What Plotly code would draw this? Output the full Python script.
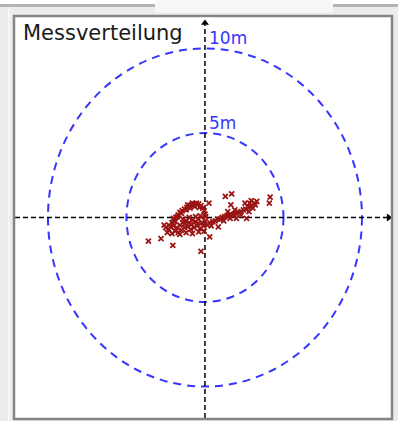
import plotly.graph_objects as go

# ---- data (metres) ----
title_text = "Messverteilung"
ring_radii = [5, 10]
ring_labels = ["5m", "10m"]

pts_x = [-3.6, -2.8, -2.05, -0.25, 0.3, 0.25, 1.3, 1.7, 1.65, 4.15, 4.1,
         -2.3, -2.1, -1.95, -1.85, -1.7, -1.6, -1.45, -1.3, -1.15, -1.0, -0.85, -0.7, -0.55, -0.4, -0.25, -0.15, -0.05, 0.0, 0.05,
         -1.75, -1.5, -1.2, -0.95, -0.65, -0.35, -1.9, -2.0, -0.8, -1.1,
         -2.5, -2.3, -2.2, -2.0, -1.8, -1.6, -1.4, -1.2, -1.0, -0.8, -0.6, -0.4, -0.2, 0.0,
         -2.4, -2.1, -1.9, -1.7, -1.5, -1.3, -1.1, -0.9, -0.7, -0.5, -0.3, -0.1, 0.15,
         -1.6, -1.2, -0.8, -0.4, -0.05, -2.6, -1.4, -1.0, -0.6, -0.3, -1.25, -0.85, -0.45,
         0.3, 0.5, 0.65, 0.8, 0.95, 1.1, 1.25, 1.4, 1.55, 1.7, 1.85, 2.0, 2.0, 2.15, 2.3, 2.45, 2.6, 2.75, 2.9, 3.05, 3.2,
         2.55, 2.85, 3.15, 2.65, 0.85, 1.2, 1.6, 2.3, 2.8, 0.4, 1.9, 1.45, 3.3, 2.95]
pts_y = [-1.4, -1.25, -1.65, -2.0, -1.15, 0.85, 1.25, 1.4, 0.75, 1.2, 0.85,
         -0.45, -0.3, -0.15, 0.0, 0.15, 0.3, 0.4, 0.5, 0.6, 0.7, 0.75, 0.8, 0.85, 0.8, 0.7, 0.55, 0.4, 0.2, 0.05,
         0.05, 0.25, 0.45, 0.55, 0.65, 0.6, -0.25, -0.05, 0.85, 0.75,
         -0.6, -0.7, -0.55, -0.5, -0.6, -0.45, -0.3, -0.2, -0.3, -0.15, -0.25, -0.1, -0.3, -0.2,
         -0.9, -0.95, -0.8, -0.9, -0.75, -0.6, -0.55, -0.7, -0.6, -0.5, -0.65, -0.5, -0.45,
         -1.0, -0.9, -0.95, -0.85, -0.8, -0.45, -0.1, 0.0, 0.05, 0.1, -0.35, -0.4, -0.35,
         -0.3, -0.25, -0.2, -0.1, -0.1, 0.0, 0.05, 0.1, 0.15, 0.15, 0.2, 0.25, -0.05, 0.3, 0.35, 0.45, 0.5, 0.6, 0.65, 0.55, 0.75,
         0.85, 0.85, 0.85, -0.05, -0.55, -0.2, -0.05, 0.15, 0.35, -0.5, 0.45, 0.35, 0.95, 1.0]

# axis extents (metres)
x_range = [-12.1, 11.85]
y_range = [-11.86, 11.86]
h_axis_x = [-12.1, 11.7]
v_axis_y = [-11.86, 11.5]

W, H = 398, 421
ML, MR, MT, MB = 15, 7, 17, 3
PW, PH = W - ML - MR, H - MT - MB

def px(x):
    return (x - ML) / PW

def py(y):
    return (H - MB - y) / PH

fig = go.Figure()

# axes (dashed black cross)
fig.add_trace(go.Scatter(x=h_axis_x, y=[0, 0], mode="lines",
                         line=dict(color="black", width=1.5, dash="5px,3px"),
                         hoverinfo="skip", showlegend=False))
fig.add_trace(go.Scatter(x=[0, 0], y=v_axis_y, mode="lines",
                         line=dict(color="black", width=1.5, dash="5px,3px"),
                         hoverinfo="skip", showlegend=False))
fig.add_trace(go.Scatter(x=[h_axis_x[1]], y=[0], mode="markers",
                         marker=dict(symbol="triangle-right", size=7, color="black"),
                         hoverinfo="skip", showlegend=False))
fig.add_trace(go.Scatter(x=[0], y=[v_axis_y[1]], mode="markers",
                         marker=dict(symbol="triangle-up", size=7, color="black"),
                         hoverinfo="skip", showlegend=False))

# measurement points
fig.add_trace(go.Scatter(x=pts_x, y=pts_y, mode="markers",
                         marker=dict(symbol="x-thin", size=5, color="#9a1414",
                                     line=dict(color="#9a1414", width=1.8)),
                         showlegend=False))

shapes = []
# outer chrome (outside the plot area only)
shapes.append(dict(type="rect", xref="paper", yref="paper", x0=px(0), x1=px(W), y0=py(4), y1=py(0),
                   fillcolor="white", line=dict(width=0), layer="below"))
shapes.append(dict(type="rect", xref="paper", yref="paper", x0=px(155), x1=px(333), y0=py(13), y1=py(0),
                   fillcolor="#f6f6f6", line=dict(width=0), layer="below"))
for a, b in [(0, 155), (333, W)]:
    shapes.append(dict(type="rect", xref="paper", yref="paper", x0=px(a), x1=px(b), y0=py(7), y1=py(4),
                       fillcolor="#b4b4b4", line=dict(width=0), layer="below"))
shapes.append(dict(type="rect", xref="paper", yref="paper", x0=px(8), x1=px(9.5), y0=py(H), y1=py(7),
                   fillcolor="#f8f8f8", line=dict(width=0), layer="below"))
# plot box border
shapes.append(dict(type="rect", xref="paper", yref="paper", x0=px(14), x1=px(392), y0=py(419), y1=py(16),
                   line=dict(color="#858585", width=2.5), fillcolor="rgba(0,0,0,0)"))

# range rings
for r in ring_radii:
    shapes.append(dict(type="circle", xref="x", yref="y", x0=-r, x1=r, y0=-r, y1=r,
                       line=dict(color="#3535ff", width=2, dash="8px,6px"), layer="below"))

annotations = [dict(text=title_text, xref="paper", yref="paper", x=px(21), y=py(33),
                    xanchor="left", yanchor="middle", showarrow=False,
                    font=dict(family="DejaVu Sans", size=21, color="#1a1a1a"))]
for r, lab in zip(ring_radii, ring_labels):
    annotations.append(dict(text=lab, xref="x", yref="y", x=0.15, y=r + 0.6,
                            xanchor="left", yanchor="middle", showarrow=False,
                            font=dict(family="DejaVu Sans", size=17, color="#3535ff")))

fig.update_layout(
    width=W, height=H,
    margin=dict(l=ML, r=MR, t=MT, b=MB, pad=0),
    paper_bgcolor="#ececec", plot_bgcolor="white",
    xaxis=dict(range=x_range, visible=False, fixedrange=True),
    yaxis=dict(range=y_range, visible=False, fixedrange=True),
    shapes=shapes, annotations=annotations,
)

fig.write_html("out.html", config={"displayModeBar": False})
